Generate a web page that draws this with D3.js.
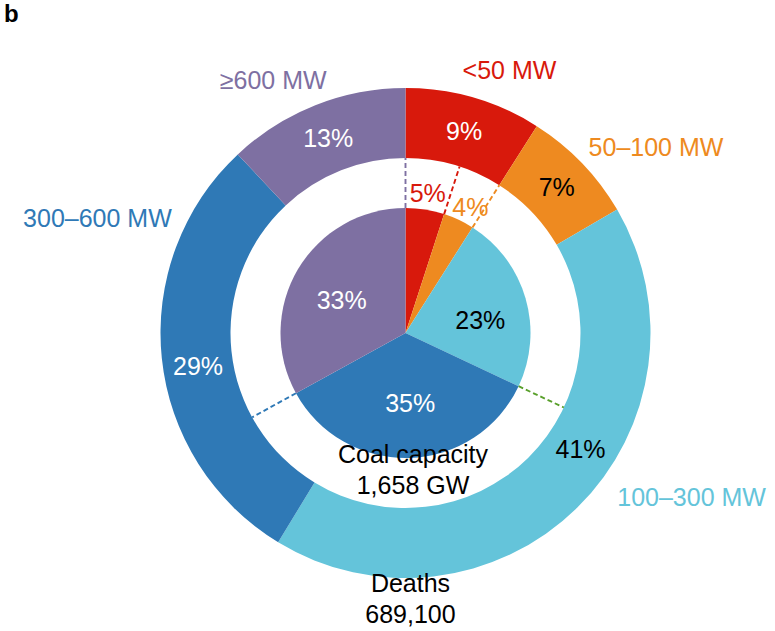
<!DOCTYPE html>
<html>
<head>
<meta charset="utf-8">
<script src="https://cdn.jsdelivr.net/npm/d3@7"></script>
<style>
  html, body { margin: 0; padding: 0; background: #fff; }
  svg { display: block; }
  text { font-family: "Liberation Sans", Arial, Helvetica, sans-serif; }
</style>
</head>
<body>
<svg id="chart" width="775" height="631"></svg>
<script>
// ---------- data ----------
const categories = ["<50 MW", "50–100 MW", "100–300 MW", "300–600 MW", "≥600 MW"];
// inner pie: share of coal capacity (%)
const capacityShare = [5, 4, 23, 35, 33];
const capacityLabels = ["5%", "4%", "23%", "35%", "33%"];
// outer ring: share of deaths (%)
const deathShare = [9.0, 7.6, 42.1, 29.3, 12.0];
const deathLabels = ["9%", "7%", "41%", "29%", "13%"];
const centerTitles = ["Coal capacity", "1,658 GW"];
const ringTitles = ["Deaths", "689,100"];

// ---------- styles ----------
const colors = ["#d8190c", "#ee8a20", "#64c4da", "#2f79b6", "#7e70a2"];
const dashColors = ["#d8190c", "#ee8a20", "#5aa02c", "#2f79b6", "#7e70a2"];
const outerTextColors = ["#fff", "#000", "#000", "#fff", "#fff"];
const innerTextColors = ["#d8190c", "#ee8a20", "#000", "#fff", "#fff"];

// ---------- layout ----------
const cx = 405.5, cy = 333;
const R_OUT = 245, R_IN = 175, R_PIE = 125;
const FS = 25;
const deg = Math.PI / 180;
// category label anchors (angle in degrees clockwise from top, radius)
const catLabelPos = [[21.6, 282.5], [53.4, 312], [119.8, 329.7], [290.4, 328.7], [332.4, 285.6]];
const outerLabelShift = [0, 0, -12, -3, 0]; // degrees
const innerLabelShift = [0, 2, 6, -2, -3];
const innerLabelRadius = [142, 142, 76, 70, 72];

const svg = d3.select("#chart");
const g = svg.append("g").attr("transform", `translate(${cx},${cy})`);

const pie = d3.pie().sort(null).value(d => d).startAngle(0).endAngle(2 * Math.PI);

// outer ring
const outerArcs = pie(deathShare);
const outerArc = d3.arc().innerRadius(R_IN).outerRadius(R_OUT);
g.selectAll("path.outer").data(outerArcs).enter().append("path")
  .attr("class", "outer")
  .attr("d", outerArc)
  .attr("fill", (d, i) => colors[i]);

// inner pie
const innerArcs = pie(capacityShare);
const innerArc = d3.arc().innerRadius(0).outerRadius(R_PIE);
g.selectAll("path.inner").data(innerArcs).enter().append("path")
  .attr("class", "inner")
  .attr("d", innerArc)
  .attr("fill", (d, i) => colors[i]);

// dashed radial connectors at the inner slice boundaries
g.selectAll("line.dash").data(innerArcs).enter().append("line")
  .attr("class", "dash")
  .attr("x1", d => R_PIE * Math.sin(d.endAngle))
  .attr("y1", d => -R_PIE * Math.cos(d.endAngle))
  .attr("x2", d => R_IN * Math.sin(d.endAngle))
  .attr("y2", d => -R_IN * Math.cos(d.endAngle))
  .attr("stroke", (d, i) => dashColors[i])
  .attr("stroke-width", 1.9)
  .attr("stroke-dasharray", "5,3");

// outer percent labels
const midR = (R_IN + R_OUT) / 2;
g.selectAll("text.outerLbl").data(outerArcs).enter().append("text")
  .attr("class", "outerLbl")
  .attr("x", (d, i) => midR * Math.sin((d.startAngle + d.endAngle) / 2 + outerLabelShift[i] * deg))
  .attr("y", (d, i) => -midR * Math.cos((d.startAngle + d.endAngle) / 2 + outerLabelShift[i] * deg))
  .attr("dy", "0.36em")
  .attr("text-anchor", "middle")
  .attr("font-size", FS)
  .attr("fill", (d, i) => outerTextColors[i])
  .text((d, i) => deathLabels[i]);

// inner percent labels
g.selectAll("text.innerLbl").data(innerArcs).enter().append("text")
  .attr("class", "innerLbl")
  .attr("x", (d, i) => innerLabelRadius[i] * Math.sin((d.startAngle + d.endAngle) / 2 + innerLabelShift[i] * deg))
  .attr("y", (d, i) => -innerLabelRadius[i] * Math.cos((d.startAngle + d.endAngle) / 2 + innerLabelShift[i] * deg))
  .attr("dy", "0.36em")
  .attr("text-anchor", "middle")
  .attr("font-size", FS)
  .attr("fill", (d, i) => innerTextColors[i])
  .text((d, i) => capacityLabels[i]);

// category labels
g.selectAll("text.cat").data(categories).enter().append("text")
  .attr("class", "cat")
  .attr("x", (d, i) => catLabelPos[i][1] * Math.sin(catLabelPos[i][0] * deg))
  .attr("y", (d, i) => -catLabelPos[i][1] * Math.cos(catLabelPos[i][0] * deg))
  .attr("dy", "0.36em")
  .attr("text-anchor", "middle")
  .attr("font-size", FS)
  .attr("fill", (d, i) => colors[i])
  .text(d => d);

// center titles
g.selectAll("text.ctitle").data(centerTitles).enter().append("text")
  .attr("class", "ctitle")
  .attr("x", 7.5)
  .attr("y", (d, i) => 130.3 + i * 30.7)
  .attr("text-anchor", "middle")
  .attr("font-size", FS)
  .attr("fill", "#000")
  .text(d => d);

g.selectAll("text.rtitle").data(ringTitles).enter().append("text")
  .attr("class", "rtitle")
  .attr("x", 5)
  .attr("y", (d, i) => 258.7 + i * 31.3)
  .attr("text-anchor", "middle")
  .attr("font-size", FS)
  .attr("fill", "#000")
  .text(d => d);

// panel letter
svg.append("text")
  .attr("x", 4)
  .attr("y", 21.5)
  .attr("font-size", 24)
  .attr("font-weight", "bold")
  .attr("fill", "#000")
  .text("b");
</script>
</body>
</html>
